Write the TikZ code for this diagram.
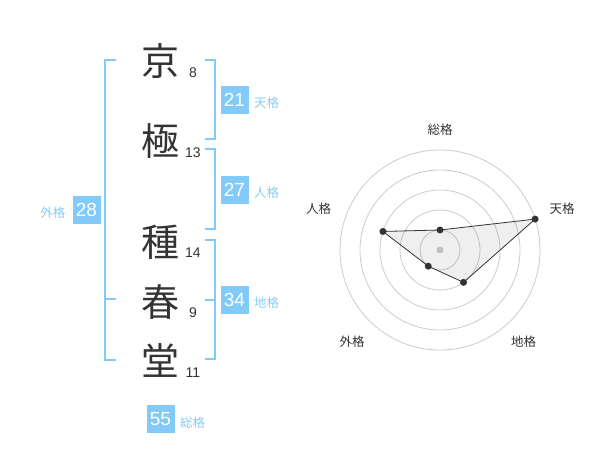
\documentclass[tikz,border=0pt]{standalone}
\usepackage{fontspec}
\usetikzlibrary{calc}
\setmainfont{Liberation Sans}
\newfontfamily\cjk{Noto Sans CJK JP}
\definecolor{bl}{HTML}{82CBF8}
\definecolor{bltext}{HTML}{8ACCF2}
\definecolor{ink}{HTML}{333333}
\definecolor{ring}{HTML}{CCCCCC}
\begin{document}
\begin{tikzpicture}[x=1pt,y=-1pt,
  kanji/.style={font=\cjk\fontsize{38}{38}\selectfont, text=ink, inner sep=0pt},
  strokes/.style={font=\fontsize{14}{14}\selectfont, text=ink, inner sep=0pt},
  bracket/.style={draw=bl, line width=2pt},
  numbox/.style={fill=bl, text=white, minimum width=28pt, minimum height=28pt, inner sep=0pt, font=\fontsize{19}{19}\selectfont},
  kaku/.style={font=\cjk\fontsize{12.5}{12.5}\selectfont, text=bltext, inner sep=0pt},
  rlabel/.style={font=\cjk\fontsize{12.5}{12.5}\selectfont, text=ink, inner sep=0pt},
  ringline/.style={draw=ring, line width=0.8pt},
  dot/.style={circle, fill=ink, minimum size=7pt, inner sep=0pt}
]
\useasboundingbox (0,0) rectangle (600,470);
\fill[white] (0,0) rectangle (600,470);

% kanji
\node[kanji] (k1) at (160,61) {京};
\node[kanji] (k2) at (160,141) {極};
\node[kanji] (k3) at (160,242) {種};
\node[kanji] (k4) at (160,302) {春};
\node[kanji] (k5) at (160,361) {堂};

\node[strokes] (s1) at (193,72.5) {8};
\node[strokes] (s2) at (193,153) {13};
\node[strokes] (s3) at (193,252.5) {14};
\node[strokes] (s4) at (193,313) {9};
\node[strokes] (s5) at (193,372.5) {11};

% brackets
\draw[bracket] (116,60) -- (105,60) -- (105,360) -- (116,360);
\draw[bracket] (105,299.5) -- (116,299.5);
\draw[bracket] (205,60.5) -- (215,60.5) -- (215,139.5) -- (205,139.5);
\draw[bracket] (205,149.5) -- (215,149.5) -- (215,229.5) -- (205,229.5);
\draw[bracket] (205,240) -- (215,240) -- (215,359.5) -- (205,359.5);
\draw[bracket] (205,300) -- (215,300);

% number boxes
\node[numbox] (b21) at (234.5,100) {21};
\node[kaku, anchor=west] (t21) at (254,103) {天格};
\node[numbox] (b27) at (234.5,190) {27};
\node[kaku, anchor=west] (t27) at (254,193) {人格};
\node[numbox] (b34) at (234.5,300) {34};
\node[kaku, anchor=west] (t34) at (254,303) {地格};
\node[numbox] (b28) at (86.5,210) {28};
\node[kaku, anchor=east] (t28) at (65.5,213) {外格};
\node[numbox] (b55) at (160.5,419) {55};
\node[kaku, anchor=west] (t55) at (180,422.5) {総格};

% radar
\coordinate (c) at (440,250);
\foreach \r in {20,40,60,80,100} \draw[ringline] (c) circle[radius=\r];
\fill[ring] (c) circle[radius=3.5];

\coordinate (pS) at ($(c)+(0,-20)$);
\coordinate (pT) at ($(c)+({100*cos(18)},{-100*sin(18)})$);
\coordinate (pC) at ($(c)+({40*cos(54)},{40*sin(54)})$);
\coordinate (pG) at ($(c)+({-20*cos(54)},{20*sin(54)})$);
\coordinate (pJ) at ($(c)+({-60*cos(18)},{-60*sin(18)})$);

\fill[ink, fill opacity=0.08] (pS) -- (pT) -- (pC) -- (pG) -- (pJ) -- cycle;
\draw[ink, line width=0.8pt] (pS) -- (pT) -- (pC) -- (pG) -- (pJ) -- cycle;
\foreach \p in {pS,pT,pC,pG,pJ} \node[dot] at (\p) {};

\node[rlabel] (lS) at (440,130) {総格};
\node[rlabel] (lT) at (562,208.5) {天格};
\node[rlabel] (lC) at (523.5,342) {地格};
\node[rlabel] (lG) at (352,342) {外格};
\node[rlabel] (lJ) at (318.5,208.5) {人格};
\end{tikzpicture}
\end{document}
